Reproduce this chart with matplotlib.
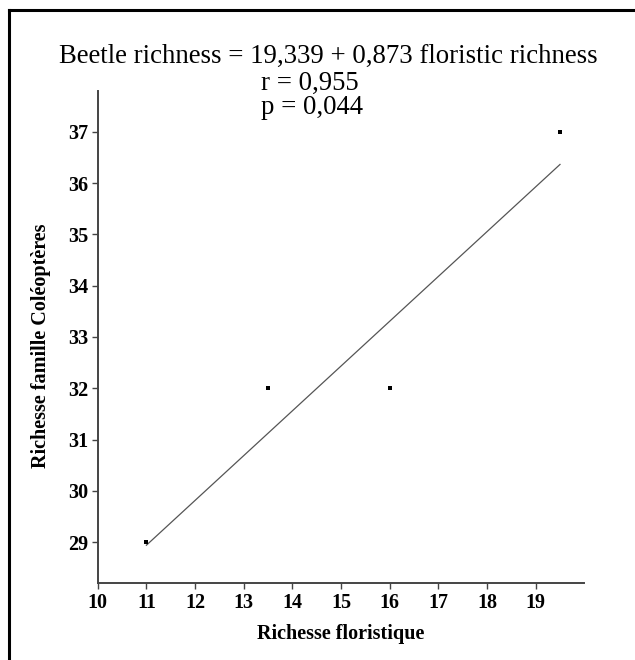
import numpy as np
import matplotlib.pyplot as plt
from matplotlib.lines import Line2D

# data
flor = [11.0, 13.5, 16.0, 19.5]
beetle = [29, 32, 32, 37]
intercept, slope = 19.339, 0.873
xticks = list(range(10, 20))
yticks = list(range(29, 38))

plt.rcParams['font.family'] = ['Liberation Serif', 'DejaVu Serif']

fig = plt.figure(figsize=(6.35, 6.6), dpi=100)
ax = fig.add_axes([0.1539, 0.1162, 0.7663, 0.7464])

axcol = '#444444'
xfit = np.array([min(flor), max(flor)])
ax.plot(xfit, intercept + slope * xfit, color='#555555', lw=0.9)
ax.plot(flor, beetle, 's', color='black', ms=3.5, mew=0)

ax.set_xlim(10, 20)
ax.set_ylim(28.2, 37.8)
ax.set_xticks(xticks)
ax.set_yticks(yticks)
for s in ['top', 'right']:
    ax.spines[s].set_visible(False)
for s in ['left', 'bottom']:
    ax.spines[s].set_color(axcol)
    ax.spines[s].set_linewidth(1.4)
ax.tick_params(direction='out', length=4, width=1, color=axcol, pad=3,
               labelsize=14.5)
for lab in ax.get_xticklabels() + ax.get_yticklabels():
    lab.set_fontweight('bold')

ax.set_xlabel('Richesse floristique', fontsize=14.5, fontweight='bold', labelpad=8)
ax.set_ylabel('Richesse famille Coléoptères', fontsize=14.5, fontweight='bold')
ax.yaxis.set_label_coords(-0.095, 0.482)

# equation text
fig.text(328 / 635, 1 - 63 / 660, 'Beetle richness = 19,339 + 0,873 floristic richness',
         ha='center', va='baseline', fontsize=19.3)
fig.text(310 / 635, 1 - 90 / 660, 'r = 0,955', ha='center', va='baseline', fontsize=19.3)
fig.text(312 / 635, 1 - 114 / 660, 'p = 0,044', ha='center', va='baseline', fontsize=19.3)

# frame of the original screenshot
fig.add_artist(Line2D([9 / 635, 9 / 635], [0, 1 - 10 / 660], transform=fig.transFigure,
                      color='black', lw=2.2, solid_capstyle='projecting'))
fig.add_artist(Line2D([9 / 635, 633 / 635], [1 - 10 / 660, 1 - 10 / 660], transform=fig.transFigure,
                      color='black', lw=2.2, solid_capstyle='projecting'))

fig.savefig('out.png', dpi=100)
